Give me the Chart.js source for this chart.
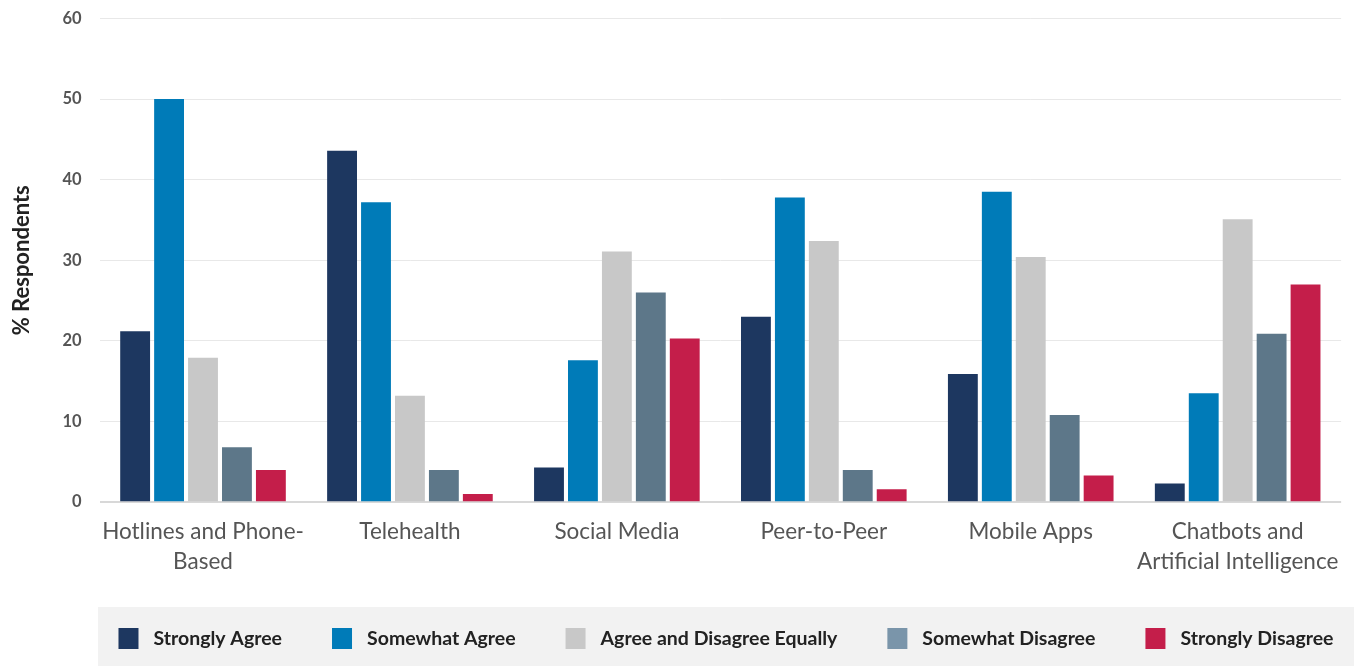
<!DOCTYPE html>
<html>
<head>
<meta charset="utf-8">
<script src="https://cdn.jsdelivr.net/npm/chart.js@4.4.1/dist/chart.umd.min.js"></script>
<style>
  html, body { margin: 0; padding: 0; background: #fff; }
  #wrap { width: 1354px; height: 666px; position: relative; }
</style>
</head>
<body>
<div id="wrap"><canvas id="surveyChart"></canvas></div>
<script>
// categories (x axis)
const categories = [
    ['Hotlines and Phone-', 'Based'],
    'Telehealth',
    'Social Media',
    'Peer-to-Peer',
    'Mobile Apps',
    ['Chatbots and', 'Artificial Intelligence']
];

// series values (% respondents)
const seriesNames = ['Strongly Agree', 'Somewhat Agree', 'Agree and Disagree Equally', 'Somewhat Disagree', 'Strongly Disagree'];
const stronglyAgree    = [21.2, 43.6, 4.3, 23.0, 15.9, 2.3];
const somewhatAgree    = [50.0, 37.2, 17.6, 37.8, 38.5, 13.5];
const agreeDisagree    = [17.9, 13.2, 31.1, 32.4, 30.4, 35.1];
const somewhatDisagree = [6.8, 4.0, 26.0, 4.0, 10.8, 20.9];
const stronglyDisagree = [4.0, 1.0, 20.3, 1.6, 3.3, 27.0];

const barColors    = ['#1d3760', '#007bb8', '#c8c8c8', '#5d7789', '#c41e4a'];
const legendColors = ['#1d3760', '#007bb8', '#c8c8c8', '#7a95aa', '#c41e4a'];

//legend drawn in a grey band at the bottom
const bandLegend = {
    id: 'bandLegend',
    afterDraw(chart) {
        const ctx = chart.ctx;
        const bandLeft = 98, bandTop = 607, bandBottom = 666, bandRight = chart.width;
        ctx.save();
        ctx.fillStyle = '#f2f2f2';
        ctx.fillRect(bandLeft, bandTop, bandRight - bandLeft, bandBottom - bandTop);

        ctx.font = 'bold 19.5px Lato';
        ctx.textBaseline = 'middle';
        const boxW = 20, boxH = 21, textGap = 15, itemGap = 50;
        const widths = chart.data.datasets.map(ds => boxW + textGap + ctx.measureText(ds.label).width);
        const total = widths.reduce((a, b) => a + b, 0) + itemGap * (widths.length - 1);
        let x = (bandLeft + bandRight) / 2 - total / 2;
        const cy = (bandTop + bandBottom) / 2 + 2;
        chart.data.datasets.forEach((ds, i) => {
            ctx.fillStyle = legendColors[i];
            ctx.fillRect(x, cy - boxH / 2, boxW, boxH);
            ctx.fillStyle = '#222';
            ctx.fillText(ds.label, x + boxW + textGap, cy);
            x += widths[i] + itemGap;
        });
        ctx.restore();
    }
};

const allSeries = [stronglyAgree, somewhatAgree, agreeDisagree, somewhatDisagree, stronglyDisagree];

const ctx = document.getElementById('surveyChart').getContext('2d');
new Chart(ctx, {
    type: 'bar',
    data: {
        labels: categories,
        datasets: allSeries.map((values, i) => ({
            label: seriesNames[i],
            data: values,
            backgroundColor: barColors[i],
            barPercentage: 0.88,
            categoryPercentage: 0.82
        }))
    },
    options: {
        responsive: true,
        maintainAspectRatio: false,
        animation: false,
        layout: {
            padding: { top: 0, right: 8, bottom: 74, left: 9 }
        },
        plugins: {
            legend: { display: false },
            tooltip: { enabled: false }
        },
        scales: {
            x: {
                grid: { display: false, drawTicks: false },
                border: { display: false },
                ticks: {
                    color: '#555',
                    font: { family: 'Lato', size: 22.5, lineHeight: 1.33 },
                    padding: 15,
                    maxRotation: 0,
                    autoSkip: false
                }
            },
            y: {
                min: 0,
                max: 60,
                border: { display: false },
                grid: {
                    color: (c) => c.tick && c.tick.value === 0 ? '#d8d8d8' : '#e8e8e8',
                    lineWidth: (c) => c.tick && c.tick.value === 0 ? 2 : 1,
                    drawTicks: false
                },
                ticks: {
                    stepSize: 10,
                    color: '#555',
                    font: { family: 'Lato', size: 16.5, weight: 'bold', lineHeight: 0.05 },
                    padding: 18
                },
                title: {
                    display: true,
                    text: '% Respondents',
                    color: '#222',
                    font: { family: 'Lato', size: 22, weight: 'bold' },
                    padding: { top: 0, bottom: 9 }
                }
            }
        }
    },
    plugins: [bandLegend]
});
</script>
</body>
</html>
